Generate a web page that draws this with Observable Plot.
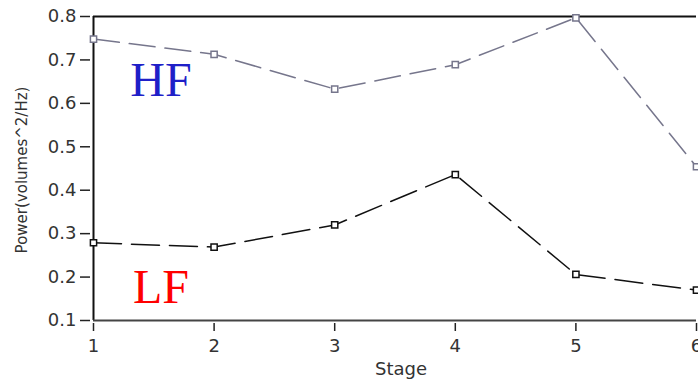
<!DOCTYPE html>
<html><head><meta charset="utf-8">
<script src="https://cdn.jsdelivr.net/npm/d3@7"></script>
<script src="https://cdn.jsdelivr.net/npm/@observablehq/plot@0.6"></script>
<style>body{margin:0;background:#fff;overflow:hidden}</style>
</head><body><div id="chart"></div>
<script>
const stages = [1, 2, 3, 4, 5, 6];
const hf = [0.748, 0.713, 0.633, 0.689, 0.797, 0.454];
const lf = [0.279, 0.269, 0.320, 0.436, 0.206, 0.170];
const yTicks = [0.1, 0.2, 0.3, 0.4, 0.5, 0.6, 0.7, 0.8];
const seriesLabels = [{name: "HF", x: 1.56, y: 0.653, color: "#1f1fc8"}, {name: "LF", x: 1.56, y: 0.175, color: "#ff0000"}];

const hfData = stages.map((s, i) => ({stage: s, value: hf[i]}));
const lfData = stages.map((s, i) => ({stage: s, value: lf[i]}));

const plot = Plot.plot({
  width: 698, height: 379,
  marginLeft: 93, marginRight: 2, marginTop: 16, marginBottom: 59,
  style: {fontFamily: "DejaVu Sans", background: "#fff"},
  x: {domain: [1, 6]},
  y: {domain: [0.1, 0.8]},
  marks: [
    Plot.axisY({ticks: yTicks, tickSize: 10, tickPadding: 4, tickFormat: d3.format(".1f"), fontSize: 18, color: "#333", label: null, stroke: "#222", strokeWidth: 1.5, dx: -3}),
    Plot.axisX({ticks: stages, tickSize: 8, tickPadding: 8, tickFormat: d3.format("d"), fontSize: 18, color: "#333", label: null, stroke: "#222", strokeWidth: 1.5, dy: 3}),
    Plot.ruleX([1], {stroke: "#111", strokeWidth: 2}),
    Plot.ruleY([0.8], {stroke: "#111", strokeWidth: 2}),
    Plot.ruleY([0.1], {stroke: "#444", strokeWidth: 2}),
    Plot.line(hfData, {x: "stage", y: "value", stroke: "#76768c", strokeWidth: 1.5, strokeDasharray: "26,10"}),
    Plot.line(lfData, {x: "stage", y: "value", stroke: "#111", strokeWidth: 1.5, strokeDasharray: "28,10"}),
    Plot.dot(hfData, {x: "stage", y: "value", symbol: "square", r: 3.5, stroke: "#76768c", fill: "#fff", strokeWidth: 1.5}),
    Plot.dot(lfData, {x: "stage", y: "value", symbol: "square", r: 3.5, stroke: "#111", fill: "#fff", strokeWidth: 1.5}),
    Plot.text(seriesLabels, {x: "x", y: "y", text: "name", fill: "color", fontSize: 48, fontFamily: "Liberation Serif", textAnchor: "middle"})
  ]
});
const svg = d3.select(plot);
svg.append("text").attr("x", 401).attr("y", 375).attr("text-anchor", "middle")
  .attr("font-size", 18).attr("fill", "#333").attr("font-family", "DejaVu Sans").text("Stage");
svg.append("text").attr("transform", "translate(27,170) rotate(-90)").attr("text-anchor", "middle")
  .attr("font-size", 15).attr("fill", "#333").attr("font-family", "DejaVu Sans").text("Power(volumes^2/Hz)");
document.getElementById("chart").appendChild(plot);
</script></body></html>
